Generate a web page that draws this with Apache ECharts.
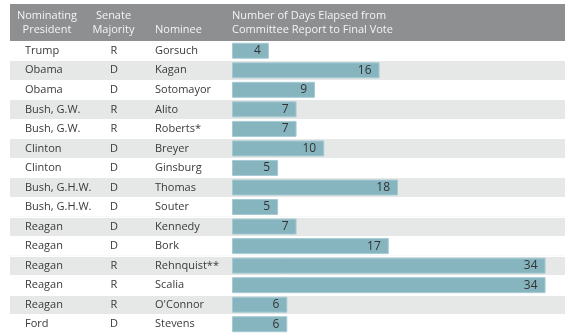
<!DOCTYPE html>
<html><head><meta charset="utf-8">
<script src="https://cdn.jsdelivr.net/npm/echarts@6/dist/echarts.min.js"></script>
<style>html,body{margin:0;padding:0;background:#fff}#c{width:574px;height:336px}</style>
</head><body><div id="c"></div>
<script>
const presidents = ['Trump','Obama','Obama','Bush, G.W.','Bush, G.W.','Clinton','Clinton','Bush, G.H.W.','Bush, G.H.W.','Reagan','Reagan','Reagan','Reagan','Reagan','Ford'];
const majority = ['R','D','D','R','R','D','D','D','D','D','D','R','R','R','D'];
const nominees = ['Gorsuch','Kagan','Sotomayor','Alito','Roberts*','Breyer','Ginsburg','Thomas','Souter','Kennedy','Bork','Rehnquist**','Scalia',"O'Connor",'Stevens'];
const days = [4,16,9,7,7,10,5,18,5,7,17,34,34,6,6];
const headers = ['Nominating\nPresident','Senate\nMajority','Nominee','Number of Days Elapsed from\nCommittee Report to Final Vote'];

const FONT = '"Open Sans", sans-serif';
const TXT = '#3a3a3a';
const chart = echarts.init(document.getElementById('c'), null, {renderer:'canvas'});
const rowIdx = nominees.map((_, i) => String(i));
const baseText = {color:TXT, fontFamily:FONT, fontSize:11};

chart.setOption({
  animation:false,
  grid:[
    {left:10, right:9, top:41, bottom:2},
    {left:232, width:332, top:41, bottom:2}
  ],
  xAxis:[
    {type:'value', gridIndex:0, show:false, min:0, max:1},
    {type:'value', gridIndex:1, show:false, min:0, max:36}
  ],
  yAxis:[
    {type:'category', gridIndex:0, inverse:true, data:rowIdx,
     axisLine:{show:false}, axisTick:{show:false},
     splitLine:{show:true, lineStyle:{color:'#ffffff', width:1}},
     splitArea:{show:true, areaStyle:{color:['#ffffff','#e6e7e7']}},
     axisLabel:{inside:true, interval:0, align:'left', margin:15,
       formatter:(v) => { const i = +v; return '{p|' + presidents[i] + '}{m|' + majority[i] + '}{n|' + nominees[i] + '}'; },
       rich:{
         p:Object.assign({width:75, align:'left'}, baseText),
         m:Object.assign({width:28, align:'center'}, baseText),
         n:Object.assign({align:'left', padding:[0,0,0,27]}, baseText)
       }}},
    {type:'category', gridIndex:1, inverse:true, data:rowIdx, show:false}
  ],
  graphic:[
    {type:'rect', shape:{x:10, y:4, width:555, height:37}, style:{fill:'#8e8f91'}, z:0},
    {type:'text', x:47, y:23, style:{text:headers[0], align:'center', verticalAlign:'middle', lineHeight:13.5, fill:'#f4f4f4', fontFamily:FONT, fontSize:11}},
    {type:'text', x:113.5, y:23, style:{text:headers[1], align:'center', verticalAlign:'middle', lineHeight:13.5, fill:'#f4f4f4', fontFamily:FONT, fontSize:11}},
    {type:'text', x:155, y:30, style:{text:headers[2], align:'left', verticalAlign:'middle', fill:'#f4f4f4', fontFamily:FONT, fontSize:11}},
    {type:'text', x:232, y:23, style:{text:headers[3], align:'left', verticalAlign:'middle', lineHeight:13.5, fill:'#f4f4f4', fontFamily:FONT, fontSize:11}}
  ],
  series:[{
    type:'bar', xAxisIndex:1, yAxisIndex:1, data:days, barWidth:16,
    itemStyle:{color:'#86b5c0', borderColor:'#a6cad2', borderWidth:1},
    label:{show:true, position:'insideRight', distance:8, color:'#333', fontFamily:FONT, fontSize:12}
  }]
});
</script></body></html>
